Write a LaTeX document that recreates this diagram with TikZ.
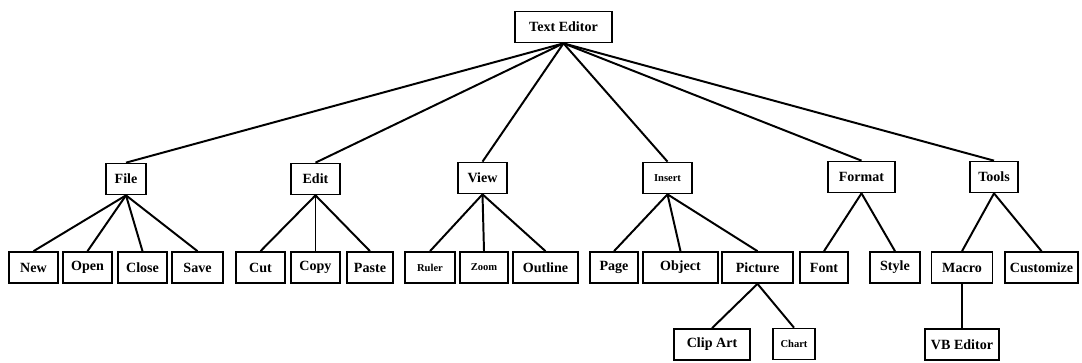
\documentclass[tikz,border=0pt]{standalone}
\usepackage{fontspec}
\setmainfont{Liberation Serif}

\begin{document}
\begin{tikzpicture}[x=0.025cm, y=-0.025cm,
    box/.style={draw=black, line width=1.2pt, inner sep=0pt, minimum height=31*0.025cm, font=\bfseries\fontsize{10}{12}\selectfont},
    tiny/.style={font=\bfseries\fontsize{7.5}{9}\selectfont},
    link/.style={line width=1.4pt}]
    %% The page is as large as the scanned picture, so the margins stay the same
    \useasboundingbox (0,0) rectangle (1082,362);

    %% The root of the menu tree
    \node[box, minimum width=97*0.025cm] (editor) at (563.5,27) {Text Editor};

    %% The six menus. Every box gets its own width
    \node[box, minimum width=40*0.025cm] (file) at (126,179) {File};
    \node[box, minimum width=49*0.025cm] (edit) at (315.5,179) {Edit};
    \node[box, minimum width=49*0.025cm] (view) at (482.5,178) {View};
    \node[box, tiny, minimum width=49*0.025cm] (insert) at (667.5,178) {Insert};
    \node[box, minimum width=67*0.025cm] (format) at (861.5,177) {Format};
    \node[box, minimum width=48*0.025cm] (tools) at (994,177) {Tools};

    %% The items of each menu
    \node[box, minimum width=49*0.025cm] (new) at (33.5,267.5) {New};
    \node[box, minimum width=49*0.025cm] (open) at (87.5,267.5) {Open};
    \node[box, minimum width=49*0.025cm] (close) at (142.5,267.5) {Close};
    \node[box, minimum width=51*0.025cm] (save) at (197.5,267.5) {Save};
    \node[box, minimum width=49*0.025cm] (cut) at (260.5,267.5) {Cut};
    \node[box, minimum width=49*0.025cm] (copy) at (315.5,267.5) {Copy};
    \node[box, minimum width=46*0.025cm] (paste) at (370,267.5) {Paste};
    \node[box, tiny, minimum width=50*0.025cm] (ruler) at (430,267.5) {Ruler};
    \node[box, tiny, minimum width=48*0.025cm] (zoom) at (484,267.5) {Zoom};
    \node[box, minimum width=65*0.025cm] (outline) at (545.5,267.5) {Outline};
    \node[box, minimum width=48*0.025cm] (page) at (614,267.5) {Page};
    \node[box, minimum width=75*0.025cm] (object) at (680.5,267.5) {Object};
    \node[box, minimum width=71*0.025cm] (picture) at (757.5,267.5) {Picture};
    \node[box, minimum width=48*0.025cm] (font) at (824,267.5) {Font};
    \node[box, minimum width=50*0.025cm] (style) at (895,267.5) {Style};
    \node[box, minimum width=61*0.025cm] (macro) at (962,267.5) {Macro};
    \node[box, minimum width=73*0.025cm] (customize) at (1041.5,267.5) {Customize};

    %% The last level
    \node[box, minimum width=76*0.025cm] (clipart) at (712,344.5) {Clip Art};
    \node[box, tiny, minimum width=42*0.025cm] (chart) at (794,344) {Chart};
    \node[box, minimum width=74*0.025cm] (vbeditor) at (962,344.5) {VB Editor};

    %% Lines from each box down to its children
    \foreach \child in {file,edit,view,insert,format,tools}
        \draw[link] (editor.south) -- (\child.north);
    \foreach \child in {new,open,close,save}
        \draw[link] (file.south) -- (\child.north);
    \foreach \child in {cut,copy,paste}
        \draw[link] (edit.south) -- (\child.north);
    \foreach \child in {ruler,zoom,outline}
        \draw[link] (view.south) -- (\child.north);
    \foreach \child in {page,object,picture}
        \draw[link] (insert.south) -- (\child.north);
    \foreach \child in {font,style}
        \draw[link] (format.south) -- (\child.north);
    \foreach \child in {macro,customize}
        \draw[link] (tools.south) -- (\child.north);
    \foreach \child in {clipart,chart}
        \draw[link] (picture.south) -- (\child.north);
    \draw[link] (macro.south) -- (vbeditor.north);

\end{tikzpicture}
\end{document}
